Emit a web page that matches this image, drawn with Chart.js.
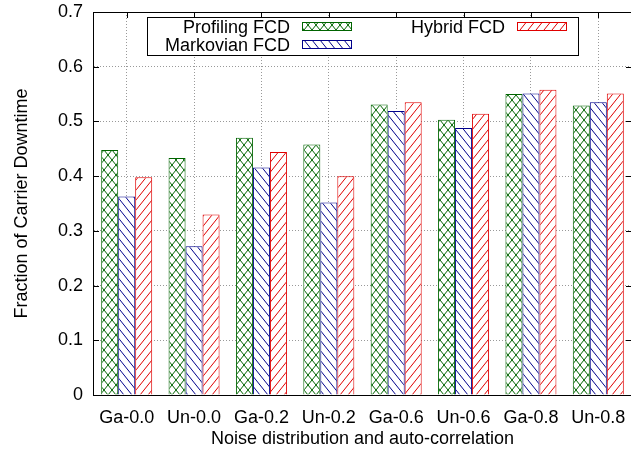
<!DOCTYPE html>
<html>
<head>
<meta charset="utf-8">
<script src="https://cdn.jsdelivr.net/npm/chart.js@4"></script>
<style>
  html, body { margin: 0; padding: 0; background: #fff; overflow: hidden; }
</style>
</head>
<body>
<canvas id="chart" width="633" height="454"></canvas>
<script>
const categories = ['Ga-0.0', 'Un-0.0', 'Ga-0.2', 'Un-0.2', 'Ga-0.6', 'Un-0.6', 'Ga-0.8', 'Un-0.8'];
const seriesNames = ['Profiling FCD', 'Markovian FCD', 'Hybrid FCD'];
const profilingValues = [0.448, 0.433, 0.470, 0.458, 0.531, 0.503, 0.550, 0.529];
const markovianValues = [0.363, 0.272, 0.416, 0.352, 0.519, 0.488, 0.551, 0.535];
const hybridValues = [0.398, 0.330, 0.444, 0.400, 0.535, 0.514, 0.558, 0.551];
const yTickValues = [0, 0.1, 0.2, 0.3, 0.4, 0.5, 0.6, 0.7];

const FONT = '"Liberation Sans", Arial, Helvetica, sans-serif';
const colors = ['#006400', '#00008b', '#e00000'];

// hatch fills like gnuplot's fill patterns (white background)
function makePattern(kind, color) {
    const c = document.createElement('canvas');
    const w = 8, h = 10;
    c.width = w; c.height = h;
    const g = c.getContext('2d');
    g.fillStyle = '#fff';
    g.fillRect(0, 0, w, h);
    g.strokeStyle = color;
    g.lineWidth = 1;
    for (let dx = -w; dx <= w; dx += w) {
        g.beginPath();
        if (kind === 'slash' || kind === 'cross') {
            g.moveTo(dx, h); g.lineTo(dx + w, 0);
        }
        if (kind === 'back' || kind === 'cross') {
            g.moveTo(dx, 0); g.lineTo(dx + w, h);
        }
        g.stroke();
    }
    return g.createPattern(c, 'repeat');
}

const patterns = [
    makePattern('cross', colors[0]),
    makePattern('back', colors[1]),
    makePattern('slash', colors[2])
];

// border box + inward ticks on all sides (gnuplot look)
const frame = {
    id: 'frame',
    afterDatasetsDraw(chart) {
        const { ctx, chartArea: a, scales } = chart;
        ctx.save();
        ctx.strokeStyle = '#000';
        ctx.lineWidth = 1;
        ctx.beginPath();
        yTickValues.forEach(v => {
            const y = Math.round(scales.y.getPixelForValue(v)) + 0.5;
            ctx.moveTo(a.left, y); ctx.lineTo(a.left + 6, y);
            ctx.moveTo(a.right, y); ctx.lineTo(a.right - 6, y);
        });
        categories.forEach((c, i) => {
            const x = Math.round(scales.x.getPixelForValue(i)) + 0.5;
            ctx.moveTo(x, a.top); ctx.lineTo(x, a.top + 6);
        });
        ctx.stroke();
        ctx.strokeRect(Math.round(a.left) + 0.5, Math.round(a.top) + 0.5,
            Math.round(a.right - a.left), Math.round(a.bottom - a.top));
        ctx.restore();
    }
};

// gnuplot style key: text right aligned, sample box after it
const key = {
    id: 'key',
    afterDatasetsDraw(chart) {
        const ctx = chart.ctx;
        const box = { left: 147, top: 17, right: 578, bottom: 55 };
        const slots = [
            { textRight: 290, sampleX: 302, cy: 27 },
            { textRight: 290, sampleX: 302, cy: 45 },
            { textRight: 505, sampleX: 517, cy: 27 }
        ];
        ctx.save();
        ctx.fillStyle = '#fff';
        ctx.fillRect(box.left, box.top, box.right - box.left, box.bottom - box.top);
        ctx.strokeStyle = '#000';
        ctx.lineWidth = 1;
        ctx.strokeRect(box.left + 0.5, box.top + 0.5, box.right - box.left, box.bottom - box.top);
        ctx.font = '18px ' + FONT;
        ctx.textAlign = 'right';
        ctx.textBaseline = 'middle';
        chart.data.datasets.forEach((ds, i) => {
            const s = slots[i];
            ctx.fillStyle = '#000';
            ctx.fillText(ds.label, s.textRight, s.cy + 1);
            ctx.fillStyle = ds.backgroundColor;
            ctx.fillRect(s.sampleX, s.cy - 5, 50, 9);
            ctx.strokeStyle = ds.borderColor;
            ctx.strokeRect(s.sampleX + 0.5, s.cy - 5 + 0.5, 49, 8);
        });
        ctx.restore();
    }
};

const values = [profilingValues, markovianValues, hybridValues];

new Chart(document.getElementById('chart'), {
    type: 'bar',
    data: {
        labels: categories,
        datasets: seriesNames.map((name, i) => ({
            label: name,
            data: values[i],
            backgroundColor: patterns[i],
            borderColor: colors[i],
            borderWidth: 1,
            borderSkipped: 'bottom',
            barPercentage: 1,
            categoryPercentage: 0.757
        }))
    },
    options: {
        responsive: false,
        animation: false,
        devicePixelRatio: 1,
        layout: { padding: { top: 12, right: 1, left: 0, bottom: 0 } },
        plugins: {
            legend: { display: false },
            tooltip: { enabled: false }
        },
        font: { family: FONT },
        scales: {
            x: {
                grid: {
                    offset: false,
                    drawTicks: false,
                    color: '#999',
                    lineWidth: 1
                },
                border: { display: true, color: '#000', dash: [1, 2] },
                ticks: {
                    color: '#000',
                    padding: 12,
                    font: { family: FONT, size: 18 },
                    maxRotation: 0,
                    autoSkip: false
                },
                title: {
                    display: true,
                    text: 'Noise distribution and auto-correlation',
                    color: '#000',
                    font: { family: FONT, size: 18 },
                    padding: { top: 0, bottom: 4 }
                },
                afterFit(scale) {
                    scale.height = 59;
                    scale.paddingLeft = 0;
                    scale.paddingRight = 0;
                }
            },
            y: {
                min: 0,
                max: 0.7,
                grid: {
                    drawTicks: false,
                    color: '#999',
                    lineWidth: 1
                },
                border: { display: true, color: '#000', dash: [1, 2] },
                ticks: {
                    stepSize: 0.1,
                    color: '#000',
                    padding: 10,
                    font: { family: FONT, size: 18 },
                    callback: v => (v === 0 ? '0' : v.toFixed(1))
                },
                title: {
                    display: true,
                    text: 'Fraction of Carrier Downtime',
                    color: '#000',
                    font: { family: FONT, size: 18 },
                    padding: { top: 11, bottom: 0 }
                },
                afterFit(scale) {
                    scale.width = 93;
                    scale.paddingTop = 0;
                    scale.paddingBottom = 0;
                }
            }
        }
    },
    plugins: [frame, key]
});
</script>
</body>
</html>
